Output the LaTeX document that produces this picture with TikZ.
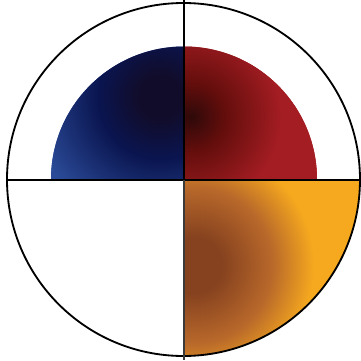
\documentclass[tikz,border=0pt]{standalone}
\usetikzlibrary{positioning, calc}
\definecolor{navyd}{HTML}{110C2A}
\definecolor{navym}{HTML}{0A1550}
\definecolor{bluel}{HTML}{2B4B98}
\definecolor{redd}{HTML}{2E0909}
\definecolor{redm}{HTML}{640E0C}
\definecolor{redl}{HTML}{A41D23}
\definecolor{brownd}{HTML}{86421F}
\definecolor{brownm}{HTML}{B8682A}
\definecolor{amber}{HTML}{F6A91E}
\definecolor{rimgray}{HTML}{3A3A3A}

% glows in true size (1 unit of the picture = 0.85bp)
\pgfdeclareradialshading{blueglow}{\pgfpoint{0bp}{0bp}}{color(0bp)=(navyd); color(18bp)=(navyd); color(53bp)=(navym); color(111bp)=(bluel); color(125bp)=(bluel)}
\pgfdeclareradialshading{redglow}{\pgfpoint{0bp}{0bp}}{color(0bp)=(redd); color(29bp)=(redm); color(77bp)=(redl); color(125bp)=(redl)}
\pgfdeclareradialshading{amberglow}{\pgfpoint{0bp}{0bp}}{color(0bp)=(brownd); color(24bp)=(brownd); color(66bp)=(brownm); color(102bp)=(amber); color(150bp)=(amber)}

\tikzset{
  rim/.style={draw=black, line width=0.55mm},
  cross/.style={draw=black, line width=0.6mm},
  spoke/.style={draw=rimgray, line width=0.6mm},
  glow/.style={inner sep=0pt, outer sep=0pt}
}

\begin{document}
\begin{tikzpicture}[x=0.3mm, y=0.3mm]
    \useasboundingbox (-184,-180.5) rectangle (177,179.5);
    \coordinate (o) at (0,0);
    \coordinate (c) at (-0.5,0);

    % blue quarter
    \begin{scope}
      \clip (o) -- (-133,0) arc[start angle=180, end angle=90, radius=133] -- cycle;
      \fill[bluel] (o) rectangle (-140,140);
      \node[glow] (bluecore) at (-24,82.5) {\pgfuseshading{blueglow}};
    \end{scope}
    % red quarter
    \begin{scope}
      \clip (o) -- (0,133) arc[start angle=90, end angle=0, radius=133] -- cycle;
      \fill[redl] (o) rectangle (140,140);
      \node[glow] (redcore) at (7,62.5) {\pgfuseshading{redglow}};
    \end{scope}
    % amber quarter
    \begin{scope}
      \clip (o) rectangle (180,-182);
      \clip (c) circle[radius=176.5];
      \fill[amber] (o) rectangle (180,-182);
      \node[glow] (ambercore) at (10,-85.5) {\pgfuseshading{amberglow}};
    \end{scope}

    \draw[rim] (c) circle[radius=176.5];
    \draw[cross] (-177,0) -- (177,0);
    \draw[spoke] (0,179.5) -- (0,-180.5);
    \draw[draw=black, line width=0.8mm] (o) -- (0,134);
    \draw[draw=black, line width=0.5mm] (0,134) -- (0,179.5);
\end{tikzpicture}
\end{document}
